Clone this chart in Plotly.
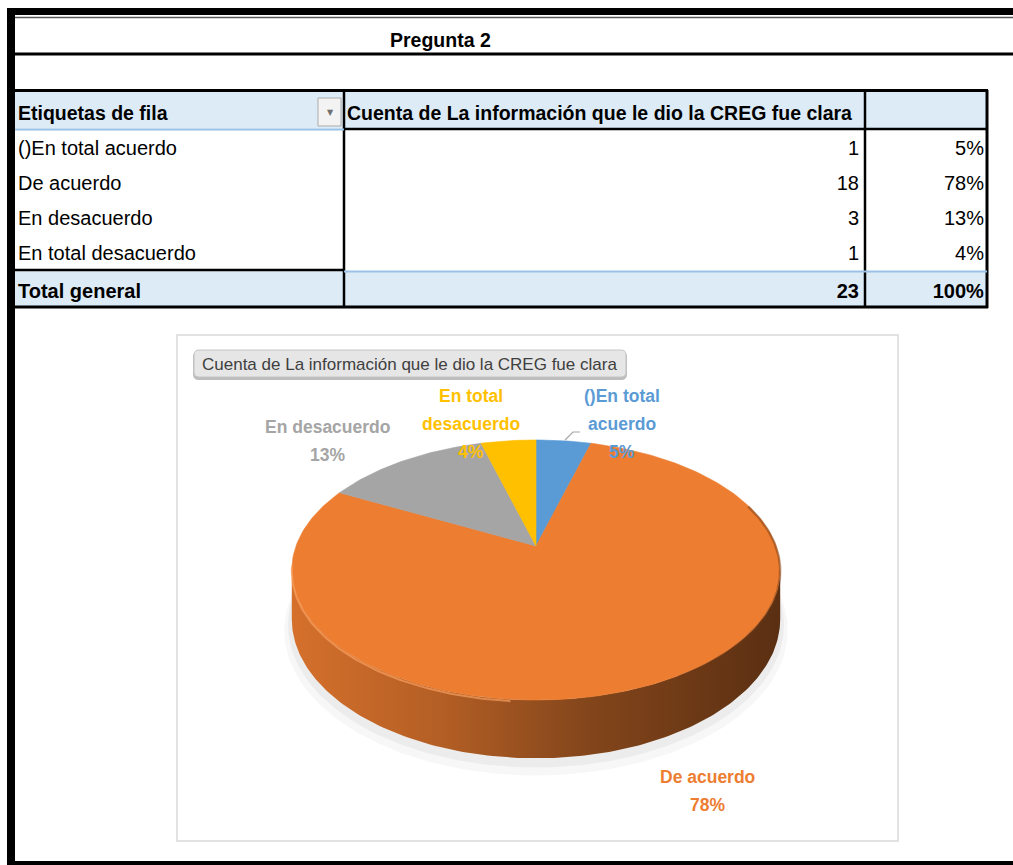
import numpy as np
import plotly.graph_objects as go

# ---------------- data ----------------
sheet_title = "Pregunta 2"
col_headers = ["Etiquetas de fila", "Cuenta de La información que le dio la CREG fue clara", ""]
row_labels = ["()En total acuerdo", "De acuerdo", "En desacuerdo", "En total desacuerdo"]
counts = [1, 18, 3, 1]
pct_labels = ["5%", "78%", "13%", "4%"]
total_label = "Total general"
total_count = 23
total_pct = "100%"
chart_title = "Cuenta de La información que le dio la CREG fue clara"
slice_colors = ["#5B9BD5", "#ED7D31", "#A5A5A5", "#FFC000"]

# ---------------- style / layout ----------------
W, H = 1013, 865
FONT = "Liberation Sans, Arial, sans-serif"
CX, CY, RX, RY, PERSP, DEPTH = 536, 546, 240, 125.6, 0.1846, 47.5
# label placement (center x, first line center y) and wrap flag for each slice
label_pos = [(622, 396), (707, 777), (327, 427), (471, 396)]
label_wrap = [True, False, False, True]
LINE_STEP = 28

fig = go.Figure()


def proj(theta, drop=0.0, scale=1.0):
    X = np.sin(theta) * scale
    Z = np.cos(theta) * scale
    w = 1 + PERSP * Z
    return CX + RX * X / w, CY - RY * Z / w + drop / w


def shade(hexcol, f):
    r, g, b = int(hexcol[1:3], 16), int(hexcol[3:5], 16), int(hexcol[5:7], 16)
    return "rgb(%d,%d,%d)" % (r * f, g * f, b * f)


fractions = np.array(counts, dtype=float) / float(sum(counts))
edges = np.concatenate([[0.0], np.cumsum(fractions)]) * 2 * np.pi

# soft shadow under the pie
full = np.linspace(0, 2 * np.pi, 300)
for sc, dr, alpha in [(1.03, DEPTH + 9, 0.03), (1.015, DEPTH + 5, 0.045)]:
    sx, sy = proj(full, dr, sc)
    fig.add_trace(go.Scatter(x=sx, y=sy, mode="lines", fill="toself",
                             fillcolor="rgba(0,0,0,%g)" % alpha, line=dict(width=0),
                             hoverinfo="skip", showlegend=False))

# visible side wall (front half)
th_r = np.arccos(-PERSP)
th_l = 2 * np.pi - th_r
x_left = proj(th_l)[0]
x_right = proj(th_r)[0]
for i in range(len(counts)):
    a0 = max(edges[i], th_r)
    a1 = min(edges[i + 1], th_l)
    if a1 <= a0:
        continue
    t = np.linspace(a0, a1, 160)
    tx, ty = proj(t)
    bx, by = proj(t[::-1], DEPTH)
    px = np.concatenate([tx, bx, tx[:1]])
    py = np.concatenate([ty, by, ty[:1]])
    c = slice_colors[i]
    fig.add_trace(go.Scatter(
        x=px, y=py, mode="lines", fill="toself", line=dict(width=0),
        fillgradient=dict(type="horizontal", start=x_left, stop=x_right,
                          colorscale=[[0, shade(c, 0.9)], [0.3, shade(c, 0.76)],
                                      [0.6, shade(c, 0.56)], [1, shade(c, 0.38)]]),
        hoverinfo="skip", showlegend=False))

# top face slices
for i in range(len(counts)):
    t = np.linspace(edges[i], edges[i + 1], max(8, int(300 * fractions[i])))
    ax, ay = proj(t)
    px = np.concatenate([[CX], ax, [CX]])
    py = np.concatenate([[CY], ay, [CY]])
    fig.add_trace(go.Scatter(x=px, y=py, mode="lines", fill="toself",
                             fillcolor=slice_colors[i],
                             line=dict(width=0.6, color=slice_colors[i]),
                             name=row_labels[i], hoverinfo="skip", showlegend=False))

# bevel highlights on the rim
t = np.linspace(np.radians(185), np.radians(262), 80)
hx, hy = proj(t, 1.5)
fig.add_trace(go.Scatter(x=hx, y=hy, mode="lines", line=dict(color="rgba(250,160,95,0.7)", width=2),
                         hoverinfo="skip", showlegend=False))
t = np.linspace(np.radians(70), np.radians(150), 80)
hx, hy = proj(t, 1.0)
fig.add_trace(go.Scatter(x=hx, y=hy, mode="lines", line=dict(color="rgba(110,55,20,0.45)", width=2.5),
                         hoverinfo="skip", showlegend=False))

# ---------------- table (text) ----------------
fig.add_trace(go.Table(
    domain=dict(x=[10 / W, 992 / W], y=[1 - 313 / H, 1 - 94 / H]),
    columnwidth=[329, 528, 125],
    header=dict(values=["<b>%s</b>" % h for h in col_headers],
                align=["left", "left", "left"], height=37,
                font=dict(family=FONT, size=19.5, color="black"),
                fill=dict(color="rgba(0,0,0,0)"), line=dict(width=0, color="rgba(0,0,0,0)")),
    cells=dict(values=[row_labels + ["<b>%s</b>" % total_label],
                       [str(v) for v in counts] + ["<b>%d</b>" % total_count],
                       pct_labels + ["<b>%s</b>" % total_pct]],
               align=["left", "right", "right"], height=35,
               font=dict(family=FONT, size=20, color="black"),
               fill=dict(color="rgba(0,0,0,0)"), line=dict(width=0, color="rgba(0,0,0,0)")),
))

# ---------------- shapes ----------------
shapes = []


def rect(x0, y0, x1, y1, fill, line_color=None, lw=0, layer="below"):
    shapes.append(dict(type="rect", xref="x", yref="y", x0=x0, y0=y0, x1=x1, y1=y1,
                       fillcolor=fill, line=dict(width=lw, color=line_color or "rgba(0,0,0,0)"),
                       layer=layer))


def hline(x0, x1, y, color, lw):
    shapes.append(dict(type="line", xref="x", yref="y", x0=x0, x1=x1, y0=y, y1=y,
                       line=dict(color=color, width=lw), layer="above"))


def vline(x, y0, y1, color, lw):
    shapes.append(dict(type="line", xref="x", yref="y", x0=x, x1=x, y0=y0, y1=y1,
                       line=dict(color=color, width=lw), layer="above"))


# table fills
rect(15, 91, 987, 128.5, "#DDEBF7")
rect(15, 271, 987, 307, "#DDEBF7")
# frame
rect(7, 8, 15, 865, "black", layer="above")
rect(7, 8, W, 15, "black", layer="above")
hline(15, W, 17.5, "#555555", 1.5)
hline(15, W, 54, "black", 3)
rect(7, 861, W, 865, "black", layer="above")
# table borders
hline(15, 988, 90.5, "black", 3)
vline(344, 90, 308, "black", 2.5)
vline(865, 90, 308, "black", 2.5)
vline(987, 90, 308, "black", 3)
hline(15, 344, 129.5, "#9BC2E6", 2)
hline(344, 987, 129, "black", 2.5)
hline(15, 344, 270, "black", 2.5)
hline(344, 987, 271.5, "#9BC2E6", 2)
hline(15, 988, 307, "black", 3)
# filter dropdown button
rect(318, 98, 341, 126, "#F3F3F3", "#ABABAB", 1, layer="above")
# chart area border
rect(177, 335, 898, 841, "rgba(0,0,0,0)", "#D9D9D9", 1.5)
# chart title box (rounded)
shapes.append(dict(type="path", xref="x", yref="y", layer="below",
                   path="M 199,351 L 621,351 Q 627,351 627,357 L 627,374 Q 627,380 621,380 "
                        "L 199,380 Q 193,380 193,374 L 193,357 Q 193,351 199,351 Z",
                   fillcolor="#BDBDBD", line=dict(width=0)))
shapes.append(dict(type="path", xref="x", yref="y", layer="below",
                   path="M 199,350 L 621,350 Q 626,350 626,355 L 626,372 Q 626,377 621,377 "
                        "L 199,377 Q 194,377 194,372 L 194,355 Q 194,350 199,350 Z",
                   fillcolor="#E6E6E6", line=dict(width=1, color="#C4C4C4")))
# leader line for the small blue slice
shapes.append(dict(type="path", xref="x", yref="y", layer="above",
                   path="M 565,440 L 573,432 L 580,432", line=dict(color="#A6A6A6", width=1.2)))

# ---------------- annotations ----------------
ann = []
ann.append(dict(x=440, y=40, text="<b>%s</b>" % sheet_title, showarrow=False, xref="x", yref="y",
                font=dict(family=FONT, size=19.5, color="black"), xanchor="center", yanchor="middle"))
ann.append(dict(x=330, y=112, text="▼", showarrow=False, xref="x", yref="y",
                font=dict(family="DejaVu Sans", size=8, color="#707070"), xanchor="center", yanchor="middle"))
ann.append(dict(x=200, y=364, text=chart_title, showarrow=False, xref="x", yref="y",
                font=dict(family=FONT, size=17, color="#404040"), xanchor="left", yanchor="middle"))
for i, lab in enumerate(row_labels):
    if label_wrap[i]:
        parts = lab.rsplit(" ", 1)
        lines = [parts[0], parts[1]]
    else:
        lines = [lab]
    lines = lines + [pct_labels[i]]
    lx, ly = label_pos[i]
    for k, ln in enumerate(lines):
        ann.append(dict(x=lx, y=ly + k * LINE_STEP, text="<b>%s</b>" % ln, showarrow=False,
                        xref="x", yref="y", xanchor="center", yanchor="middle",
                        font=dict(family=FONT, size=17.5, color=slice_colors[i])))

fig.update_layout(
    width=W, height=H, autosize=False,
    margin=dict(l=0, r=0, t=0, b=0, pad=0),
    paper_bgcolor="white", plot_bgcolor="white",
    xaxis=dict(range=[0, W], visible=False, showgrid=False, zeroline=False, fixedrange=True, domain=[0, 1]),
    yaxis=dict(range=[H, 0], visible=False, showgrid=False, zeroline=False, fixedrange=True, domain=[0, 1]),
    shapes=shapes, annotations=ann, showlegend=False,
)

fig.write_html("out.html")
